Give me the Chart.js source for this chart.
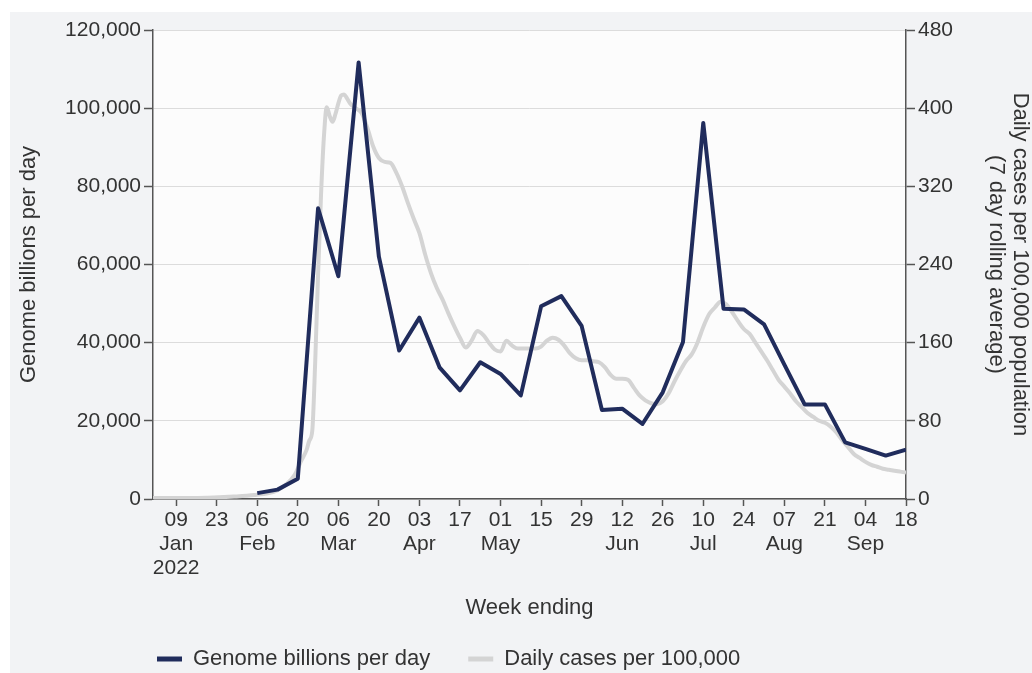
<!DOCTYPE html>
<html><head><meta charset="utf-8">
<script src="https://cdn.jsdelivr.net/npm/chart.js@4/dist/chart.umd.min.js"></script>
<style>html,body{margin:0;padding:0;background:#fff;} #wrap{width:1032px;height:673px;position:relative;}</style>
</head><body><div id="wrap"><canvas id="c"></canvas></div>
<script>
// ---- data ----
const weekEnding = ['2022-02-06','2022-02-13','2022-02-20','2022-02-27','2022-03-06','2022-03-13','2022-03-20','2022-03-27',
  '2022-04-03','2022-04-10','2022-04-17','2022-04-24','2022-05-01','2022-05-08','2022-05-15','2022-05-22','2022-05-29',
  '2022-06-05','2022-06-12','2022-06-19','2022-06-26','2022-07-03','2022-07-10','2022-07-17','2022-07-24','2022-07-31',
  '2022-08-07','2022-08-14','2022-08-21','2022-08-28','2022-09-04','2022-09-11','2022-09-18'];
const genomeValues = [1500,2400,5200,74400,57000,111700,62000,38000,46400,33600,27800,35000,32000,26500,49300,51900,44300,
  22800,23100,19200,27300,40200,96200,48700,48500,44700,34400,24200,24200,14500,12800,11100,12600];

// days since 1 Jan 2022
const caseDayOffsets = [0,7,14,21,28,35,40,43,46,49,51,53,54,55,56,57,58,59,60,61,62,63,64,65,66,67,68,70,72,74,76,78,80,82,84,86,88,90,92,94,96,98,100,102,104,106,108,110,112,114,116,118,120,122,124,126,128,130,132,134,136,138,140,142,144,146,148,150,152,154,156,158,160,162,164,166,168,170,172,174,176,178,180,182,184,186,188,190,192,194,196,198,200,202,204,206,208,210,212,214,216,218,220,222,224,226,228,230,232,234,236,238,240,242,244,246,248,250,252,254,256,258,260];
const caseValues = [1,1,1,1.5,2.5,4,6,9,15,25,38,50,60,70,140,230,310,370,401,392,386,394,405,413,414,410,405,400,395,380,361,349,345,344,334,320,303,287,272,250,231,216,204,190,177,165,155,162,172,168,160,153,151,162,157,154,154,154,154,156,162,165,163,157,149,144,142,142,141,140,135,127,123,123,122,114,106,101,98,97,100,108,120,131,141,148,160,176,189,196,202,199,191,182,174,169,160,151,142,132,122,115,108,100,94,88,84,80,78,74,68,60,53,46,42,38,35,33,31,30,29,28,27];

const tickDates = ['2022-01-09','2022-01-23','2022-02-06','2022-02-20','2022-03-06','2022-03-20','2022-04-03','2022-04-17',
  '2022-05-01','2022-05-15','2022-05-29','2022-06-12','2022-06-26','2022-07-10','2022-07-24','2022-08-07','2022-08-21',
  '2022-09-04','2022-09-18'];
const tickLabels = [['09','Jan','2022'],['23'],['06','Feb'],['20'],['06','Mar'],['20'],['03','Apr'],['17'],['01','May'],
  ['15'],['29'],['12','Jun'],['26'],['10','Jul'],['24'],['07','Aug'],['21'],['04','Sep'],['18']];

const leftTicks = [0,20000,40000,60000,80000,100000,120000];
const rightTicks = [0,80,160,240,320,400,480];

// ---- helpers ----
const START = Date.UTC(2022,0,1), DAY = 86400000;
function dayOf(s){ const p = s.split('-').map(Number); return Math.round((Date.UTC(p[0],p[1]-1,p[2])-START)/DAY); }
const tickDays = tickDates.map(dayOf);

const TEXT = '#333333';
const AXIS = '#555555';
Chart.defaults.font.family = "'Liberation Sans', Arial, sans-serif";
Chart.defaults.color = TEXT;

const bgPlugin = {
  id: 'bg',
  beforeDraw(chart) {
    const ctx = chart.ctx, a = chart.chartArea;
    ctx.save();
    ctx.fillStyle = '#ffffff'; ctx.fillRect(0,0,chart.width,chart.height);
    ctx.fillStyle = '#f2f3f5'; ctx.fillRect(10,12,chart.width-10,chart.height-12);
    ctx.fillStyle = '#fcfcfc'; ctx.fillRect(a.left,a.top,a.right-a.left,a.bottom-a.top);
    ctx.restore();
  }
};
const legendPos = {
  id: 'legendPos',
  afterLayout(chart) {
    const lg = chart.legend; if (!lg) return;
    const w = lg.width, h = lg.height;
    lg.left = 157 - 38; lg.right = lg.left + w;
    lg.top = 610; lg.bottom = lg.top + h;
  }
};

new Chart(document.getElementById('c'), {
  type: 'line',
  data: {
    datasets: [
      { label: 'Genome billions per day', yAxisID: 'y',
        data: weekEnding.map((d,i)=>({x: dayOf(d), y: genomeValues[i]})),
        borderColor: '#202c5c', backgroundColor: '#202c5c', borderWidth: 4, pointRadius: 0, tension: 0, borderJoinStyle: 'round' },
      { label: 'Daily cases per 100,000', yAxisID: 'y1',
        data: caseDayOffsets.map((d,i)=>({x: d, y: caseValues[i]})),
        borderColor: '#d4d4d4', backgroundColor: '#d4d4d4', borderWidth: 4, pointRadius: 0, cubicInterpolationMode: 'monotone', borderJoinStyle: 'round' }
    ]
  },
  options: {
    responsive: true, maintainAspectRatio: false, animation: false, events: [],
    layout: { padding: { left: 10, top: 30, right: 0, bottom: -18 } },
    plugins: {
      tooltip: { enabled: false },
      legend: {
        position: 'bottom', align: 'start',
        labels: {
          boxWidth: 25, boxHeight: 5, padding: 38, color: TEXT,
          font: { size: 22 },
          generateLabels: (chart) => chart.data.datasets.map((ds,i)=>({
            text: ds.label, fillStyle: ds.borderColor, strokeStyle: ds.borderColor, lineWidth: 0,
            hidden: false, datasetIndex: i, fontColor: TEXT }))
        }
      }
    },
    scales: {
      x: {
        type: 'linear', min: 0, max: 260,
        afterBuildTicks: (s) => { s.ticks = tickDays.map(v => ({ value: v })); },
        afterFit: (s) => { s.height = 122; },
        ticks: { autoSkip: false, maxRotation: 0, minRotation: 0, padding: 2,
          font: { size: 21, lineHeight: 1.15 }, color: TEXT,
          callback: (v, i) => tickLabels[i] },
        grid: { drawOnChartArea: false, drawTicks: true, tickLength: 7, tickColor: AXIS, tickWidth: 1.5 },
        border: { display: true, color: AXIS, width: 1.5 },
        title: { display: true, text: 'Week ending', font: { size: 22, lineHeight: 1.2 }, color: TEXT, padding: 0 }
      },
      y: {
        position: 'left', min: 0, max: 120000,
        afterBuildTicks: (s) => { s.ticks = leftTicks.map(v => ({ value: v })); },
        afterFit: (s) => { s.width = 143; },
        ticks: { padding: 3, font: { size: 21 }, color: TEXT,
          callback: (v) => Number(v).toLocaleString('en-US') },
        grid: { color: '#dcdcdc', lineWidth: 1, drawTicks: true, tickLength: 9, tickColor: AXIS, tickWidth: 1.5 },
        border: { display: true, color: AXIS, width: 1.5 },
        title: { display: true, text: 'Genome billions per day', font: { size: 22, lineHeight: 1.2 }, color: TEXT, padding: { top: 6, bottom: 0 } }
      },
      y1: {
        position: 'right', min: 0, max: 480,
        afterBuildTicks: (s) => { s.ticks = rightTicks.map(v => ({ value: v })); },
        afterFit: (s) => { s.width = 126; },
        ticks: { padding: 3, font: { size: 21 }, color: TEXT },
        grid: { drawOnChartArea: false, drawTicks: true, tickLength: 9, tickColor: AXIS, tickWidth: 1.5 },
        border: { display: true, color: AXIS, width: 1.5 },
        title: { display: true, text: ['Daily cases per 100,000 population', '(7 day rolling average)'],
          font: { size: 22, lineHeight: 1.1 }, color: TEXT, padding: { top: 0, bottom: 0 } }
      }
    }
  },
  plugins: [bgPlugin, legendPos]
});
</script>
</body></html>
